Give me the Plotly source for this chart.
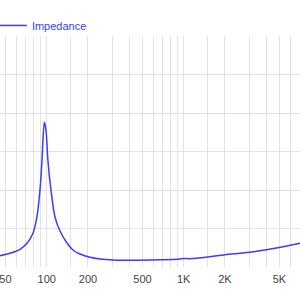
import plotly.graph_objects as go

freq = [45.6, 54, 63.8, 71.8, 79.4, 84.9, 89.3, 92.4, 96, 98.8, 102, 107.4, 114.8, 125,
        140.6, 155.5, 175, 207, 245, 305, 405, 672, 900, 988, 1112, 1500, 2000, 2575, 3047, 4637, 7063]
impedance = [6.47, 6.78, 7.30, 8.08, 9.38, 11.53, 15.0, 18.9, 23.79, 22.79, 18.9, 15.0, 11.53, 9.68,
             8.12, 7.21, 6.69, 6.26, 6.04, 5.91, 5.87, 5.93, 6.00, 6.10, 6.08, 6.30, 6.60, 6.78, 6.91, 7.43, 8.08]

grid_vals = [50, 60, 70, 80, 90, 100, 150, 200, 300, 400, 500, 600, 700, 800, 900,
             1000, 1500, 2000, 3000, 4000, 5000, 6000, 7000]
label_map = {50: "50", 100: "100", 200: "200", 500: "500", 1000: "1K", 2000: "2K", 5000: "5K"}
grid_text = [label_map.get(v, "") for v in grid_vals]

LINE = "#3c3cff"

fig = go.Figure()
fig.add_trace(go.Scatter(x=freq, y=impedance, mode="lines", name="Impedance",
                         line=dict(color=LINE, width=1.5, shape="spline", smoothing=0.8)))

fig.update_layout(
    width=300, height=300,
    margin=dict(l=0, r=0, t=36, b=33, autoexpand=False),
    paper_bgcolor="white", plot_bgcolor="white",
    showlegend=True,
    legend=dict(x=-0.027, y=0.983, xanchor="left", yanchor="bottom", orientation="h",
                font=dict(family="Liberation Sans, Arial", size=11, color=LINE),
                bgcolor="rgba(0,0,0,0)", borderwidth=0),
    font=dict(family="Liberation Sans, Arial", size=11, color="#444444"),
)
fig.update_xaxes(type="log", range=[1.659, 3.849], tickmode="array", tickvals=grid_vals,
                 ticktext=grid_text, showgrid=True, gridcolor="#e2e2e2", gridwidth=1,
                 ticks="", showline=False, zeroline=False, automargin=False,
                 ticklabelstandoff=4, ticklabeloverflow="allow",
                 tickfont=dict(size=11, color="#444444"))
fig.update_yaxes(range=[5, 35], dtick=5, tick0=5, showgrid=True, gridcolor="#e2e2e2",
                 gridwidth=1, showticklabels=False, ticks="", showline=False, zeroline=False,
                 automargin=False)

fig.write_html("out.html")
